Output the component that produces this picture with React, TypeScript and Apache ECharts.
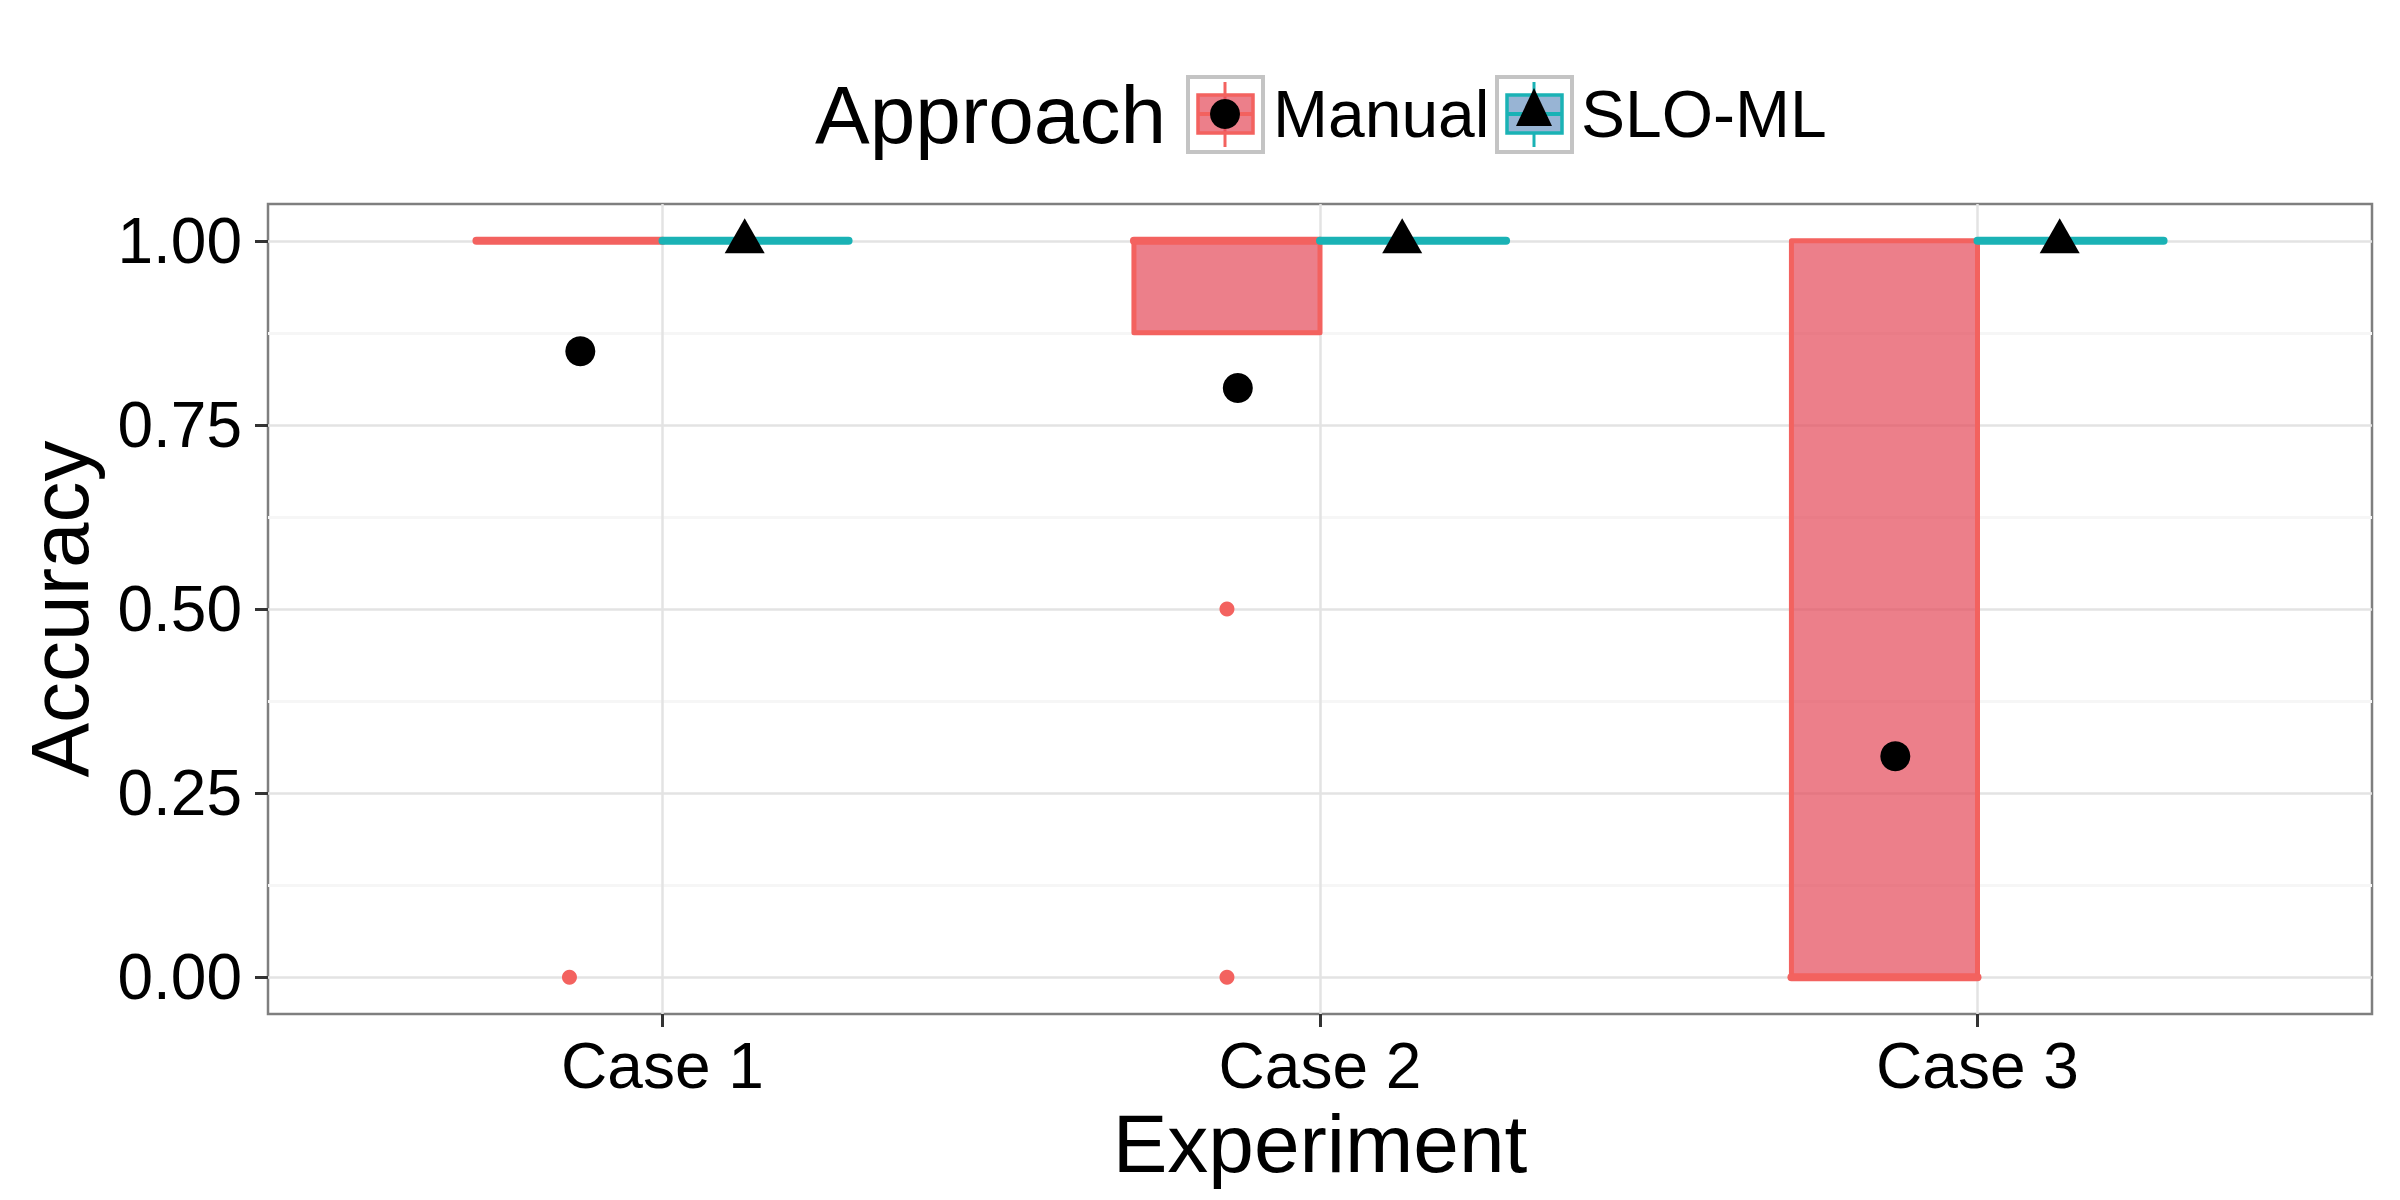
import React, { useEffect, useRef } from "react";
import * as echarts from "echarts";

// ---------- data ----------
const categories = ["Case 1", "Case 2", "Case 3"];
const approaches = ["Manual", "SLO-ML"];
const yTicks = [0, 0.25, 0.5, 0.75, 1];
const yMinorTicks = [0.125, 0.375, 0.625, 0.875];

// boxplot stats per case: [whiskerLow, q1, median, q3, whiskerHigh]
const manualLow = [1, 0.875, 0];
const manualQ1 = [1, 0.875, 0];
const manualMedian = [1, 1, 0];
const manualQ3 = [1, 1, 1];
const manualHigh = [1, 1, 1];
const manualOutliers = [[0], [0.5, 0], []];
const manualMeans = [0.85, 0.8, 0.3];

const slomlLow = [1, 1, 1];
const slomlQ1 = [1, 1, 1];
const slomlMedian = [1, 1, 1];
const slomlQ3 = [1, 1, 1];
const slomlHigh = [1, 1, 1];
const slomlOutliers = [[], [], []];
const slomlMeans = [1, 1, 1];

// ---------- style / layout ----------
const RED = "#F3625F";
const RED_FILL = "rgba(228,72,88,0.7)";
const TEAL = "#1AB2B5";
const TEAL_FILL = "rgba(152,180,212,1)";
const FONT = "Liberation Sans, Arial, Helvetica, sans-serif";
const BOX_W = 0.283; // box width in x units
const BOX_DODGE = 0.1415; // offset of box centres
const MEAN_DODGE = 0.125; // offset of mean points

function boxData(low: number[], q1: number[], med: number[], q3: number[], high: number[], off: number) {
  return categories.map((_, i) => [i + 1 + off, low[i], q1[i], med[i], q3[i], high[i]]);
}

function makeRenderItem(stroke: string, fill: string) {
  return (params: any, api: any) => {
    const x = api.value(0);
    const lo = api.value(1);
    const q1 = api.value(2);
    const med = api.value(3);
    const q3 = api.value(4);
    const hi = api.value(5);
    const tl = api.coord([x - BOX_W / 2, q3]);
    const br = api.coord([x + BOX_W / 2, q1]);
    const mL = api.coord([x - BOX_W / 2, med]);
    const mR = api.coord([x + BOX_W / 2, med]);
    const cTop = api.coord([x, hi]);
    const cQ3 = api.coord([x, q3]);
    const cQ1 = api.coord([x, q1]);
    const cBot = api.coord([x, lo]);
    const children: any[] = [];
    if (hi > q3) {
      children.push({ type: "line", shape: { x1: cTop[0], y1: cTop[1], x2: cQ3[0], y2: cQ3[1] }, style: { stroke, lineWidth: 5 } });
    }
    if (lo < q1) {
      children.push({ type: "line", shape: { x1: cBot[0], y1: cBot[1], x2: cQ1[0], y2: cQ1[1] }, style: { stroke, lineWidth: 5 } });
    }
    children.push({
      type: "rect",
      shape: { x: tl[0], y: tl[1], width: br[0] - tl[0], height: br[1] - tl[1] },
      style: { fill, stroke, lineWidth: 5, lineJoin: "round" },
    });
    children.push({
      type: "line",
      shape: { x1: mL[0], y1: mL[1], x2: mR[0], y2: mR[1] },
      style: { stroke, lineWidth: 8, lineCap: "round" },
    });
    return { type: "group", children };
  };
}

function outlierData(outs: number[][], off: number) {
  const res: number[][] = [];
  outs.forEach((arr, i) => arr.forEach((v) => res.push([i + 1 + off, v])));
  return res;
}

export default function App() {
  const ref = useRef<HTMLDivElement>(null);
  useEffect(() => {
    document.body.style.margin = "0";
    const chart = echarts.init(ref.current!, undefined, { renderer: "svg" });
    const option: any = {
      animation: false,
      backgroundColor: "#ffffff",
      textStyle: { fontFamily: FONT },
      grid: {
        left: 268,
        right: 28,
        top: 204,
        bottom: 186,
        containLabel: false,
        show: true,
        borderColor: "#7F7F7F",
        borderWidth: 2.5,
        backgroundColor: "transparent",
      },
      xAxis: {
        type: "value",
        min: 0.4,
        max: 3.6,
        name: "Experiment",
        nameLocation: "middle",
        nameGap: 82,
        nameTextStyle: { fontSize: 82, color: "#000", fontFamily: FONT, lineHeight: 82 },
        axisLine: { show: false, onZero: false },
        axisTick: { show: true, inside: false, customValues: [1, 2, 3], length: 13, lineStyle: { color: "#333", width: 3 } },
        axisLabel: {
          customValues: [1, 2, 3],
          formatter: (v: number) => categories[Math.round(v) - 1] ?? "",
          fontSize: 64,
          lineHeight: 64,
          color: "#000",
          margin: 20,
          fontFamily: FONT,
        },
        splitLine: { show: true, lineStyle: { color: "#E3E3E3", width: 2.5 } },
      },
      yAxis: [
        {
          type: "value",
          min: -0.05,
          max: 1.05,
          name: "Accuracy",
          nameLocation: "middle",
          nameGap: 168,
          nameTextStyle: { fontSize: 82, color: "#000", fontFamily: FONT, lineHeight: 82 },
          axisLine: { show: false, onZero: false },
          axisTick: { show: true, inside: false, customValues: yTicks, length: 13, lineStyle: { color: "#333", width: 3 } },
          axisLabel: {
            customValues: yTicks,
            formatter: (v: number) => v.toFixed(2),
            fontSize: 64,
            color: "#000",
            margin: 26,
            fontFamily: FONT,
          },
          splitLine: { show: true, lineStyle: { color: "#E3E3E3", width: 2.5 } },
        },
        {
          type: "value",
          min: -0.05,
          max: 1.05,
          position: "left",
          axisLine: { show: false, onZero: false },
          axisTick: { show: false, customValues: yMinorTicks },
          axisLabel: { show: false, customValues: yMinorTicks },
          splitLine: { show: true, lineStyle: { color: "#F6F6F6", width: 3 } },
          z: 0,
        },
      ],
      series: [
        {
          name: approaches[0],
          type: "custom",
          renderItem: makeRenderItem(RED, RED_FILL),
          data: boxData(manualLow, manualQ1, manualMedian, manualQ3, manualHigh, -BOX_DODGE),
          encode: { x: 0, y: [1, 2, 3, 4, 5] },
          z: 3,
        },
        {
          name: approaches[1],
          type: "custom",
          renderItem: makeRenderItem(TEAL, TEAL_FILL),
          data: boxData(slomlLow, slomlQ1, slomlMedian, slomlQ3, slomlHigh, BOX_DODGE),
          encode: { x: 0, y: [1, 2, 3, 4, 5] },
          z: 3,
        },
        {
          type: "scatter",
          data: outlierData(manualOutliers, -BOX_DODGE),
          symbol: "circle",
          symbolSize: 15,
          itemStyle: { color: RED, opacity: 1 },
          z: 4,
        },
        {
          type: "scatter",
          data: outlierData(slomlOutliers, BOX_DODGE),
          symbol: "circle",
          symbolSize: 15,
          itemStyle: { color: TEAL, opacity: 1 },
          z: 4,
        },
        {
          type: "scatter",
          data: manualMeans.map((v, i) => [i + 1 - MEAN_DODGE, v]),
          symbol: "circle",
          symbolSize: 30,
          itemStyle: { color: "#000", opacity: 1 },
          z: 5,
        },
        {
          type: "scatter",
          data: slomlMeans.map((v, i) => [i + 1 + MEAN_DODGE, v]),
          symbol: "triangle",
          symbolSize: [40, 35],
          symbolOffset: [0, -5],
          itemStyle: { color: "#000", opacity: 1 },
          z: 5,
        },
      ],
      graphic: [
        { type: "text", left: 815, top: 114 - 41, style: { text: "Approach", font: `82px ${FONT}`, fill: "#000", verticalAlign: "top" } },
        // Manual key
        { type: "rect", shape: { x: 1188, y: 77, width: 75, height: 75 }, style: { fill: "#fff", stroke: "#C4C4C4", lineWidth: 4 } },
        { type: "line", shape: { x1: 1225, y1: 82, x2: 1225, y2: 147 }, style: { stroke: RED, lineWidth: 3 } },
        { type: "rect", shape: { x: 1198, y: 95, width: 55, height: 38 }, style: { fill: RED_FILL, stroke: RED, lineWidth: 3.5 } },
        { type: "line", shape: { x1: 1198, y1: 114, x2: 1253, y2: 114 }, style: { stroke: RED, lineWidth: 4 } },
        { type: "circle", shape: { cx: 1225, cy: 114, r: 15 }, style: { fill: "#000" } },
        { type: "text", x: 1273, y: 114, style: { text: "Manual", font: `66px ${FONT}`, fill: "#000", verticalAlign: "middle" } },
        // SLO-ML key
        { type: "rect", shape: { x: 1497, y: 77, width: 75, height: 75 }, style: { fill: "#fff", stroke: "#C4C4C4", lineWidth: 4 } },
        { type: "line", shape: { x1: 1534, y1: 82, x2: 1534, y2: 147 }, style: { stroke: TEAL, lineWidth: 3 } },
        { type: "rect", shape: { x: 1507, y: 95, width: 55, height: 38 }, style: { fill: TEAL_FILL, stroke: TEAL, lineWidth: 3.5 } },
        { type: "line", shape: { x1: 1507, y1: 114, x2: 1562, y2: 114 }, style: { stroke: TEAL, lineWidth: 4 } },
        { type: "polygon", shape: { points: [[1534, 88], [1516, 126], [1552, 126]] }, style: { fill: "#000" } },
        { type: "text", x: 1581, y: 114, style: { text: "SLO-ML", font: `66px ${FONT}`, fill: "#000", verticalAlign: "middle" } },
      ],
    };
    chart.setOption(option);
    return () => chart.dispose();
  }, []);
  return <div ref={ref} style={{ width: 2400, height: 1200 }} />;
}
